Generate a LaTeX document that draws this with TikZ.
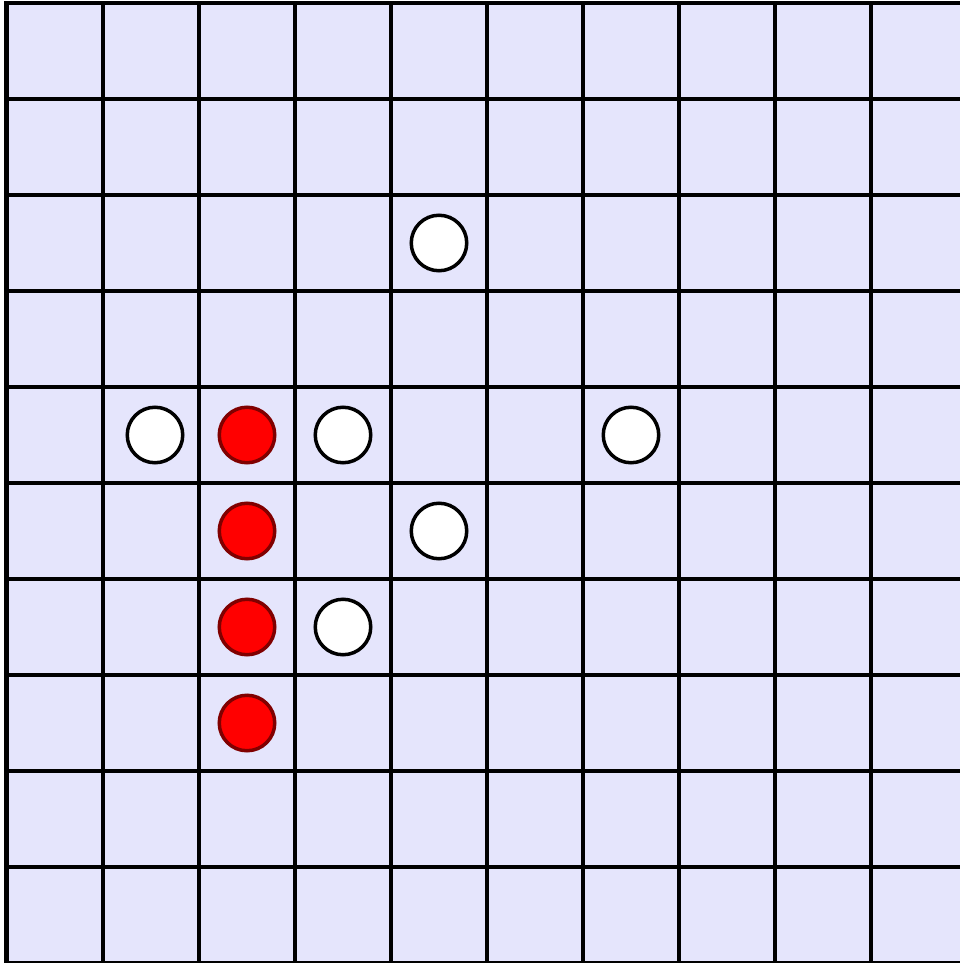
\documentclass[tikz,border=0pt]{standalone}
\definecolor{cellbg}{RGB}{229,229,252}
\definecolor{darkred}{RGB}{128,0,0}
\tikzset{
  gridline/.style={line width=3.5pt, black},
  whitestone/.style={circle, draw=black, fill=white, line width=3.5pt, minimum size=55.5pt, inner sep=0pt},
  redstone/.style={circle, draw=darkred, fill=red, line width=3.5pt, minimum size=55.5pt, inner sep=0pt}
}
\begin{document}
\begin{tikzpicture}[x=1pt,y=-1pt]
\useasboundingbox (0,0) rectangle (959,963);
\fill[cellbg] (7,3) rectangle (967,963);
\foreach \i in {0,...,10} {
  \draw[gridline] ({7+96*\i},3) -- ({7+96*\i},963);
  \draw[gridline] (7,{3+96*\i}) -- (967,{3+96*\i});
}
\draw[line width=4pt] (6,1.5) -- (6,963);
\draw[line width=4pt] (6,3) -- (967,3);
\node[whitestone] (w1) at (439,243) {};
\node[whitestone] (w2) at (155,435) {};
\node[redstone]   (r1) at (247,435) {};
\node[whitestone] (w3) at (343,435) {};
\node[whitestone] (w4) at (631,435) {};
\node[redstone]   (r2) at (247,531) {};
\node[whitestone] (w5) at (439,531) {};
\node[redstone]   (r3) at (247,627) {};
\node[whitestone] (w6) at (343,627) {};
\node[redstone]   (r4) at (247,723) {};
\end{tikzpicture}
\end{document}
